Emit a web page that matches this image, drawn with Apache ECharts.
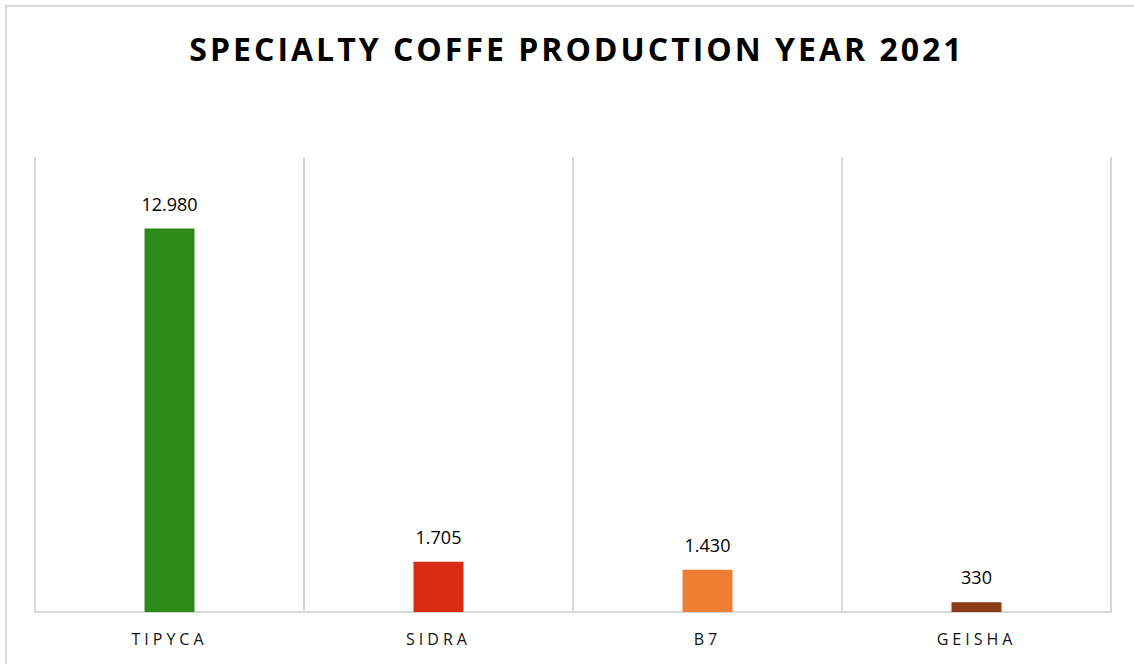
<!DOCTYPE html>
<html>
<head>
<meta charset="utf-8">
<script src="https://cdn.jsdelivr.net/npm/echarts@6/dist/echarts.min.js"></script>
<style>
  html, body { margin: 0; padding: 0; background: #fff; }
  #chart { width: 1134px; height: 664px; }
</style>
</head>
<body>
<div id="chart"></div>
<script>
const chartTitle = 'SPECIALTY COFFE PRODUCTION YEAR 2021';
const varieties = ['TIPYCA', 'SIDRA', 'B7', 'GEISHA'];
const production = [12980, 1705, 1430, 330];
const barColors = ['#2b8a18', '#d92b13', '#ee7f32', '#8b3a17'];

// 12980 -> "12.980"
function fmt(v) {
    return String(v).replace(/\B(?=(\d{3})+(?!\d))/g, '.');
}

let option = {
    animation: false,
    title: {
        text: chartTitle,
        left: 572,
        textAlign: 'center',
        top: 27,
        textStyle: {
            fontFamily: 'Open Sans',
            fontWeight: 'bold',
            fontSize: 32,
            color: '#000'
        }
    },
    grid: {
        left: 35,
        right: 23,
        top: 157,
        bottom: 52
    },
    xAxis: {
        type: 'category',
        data: varieties,
        axisTick: { show: false },
        axisLine: { lineStyle: { color: '#d9d9d9', width: 2 } },
        splitLine: { show: true, lineStyle: { color: '#d9d9d9', width: 2 } },
        axisLabel: {
            margin: 19,
            fontFamily: 'Open Sans',
            fontSize: 16,
            color: '#111'
        }
    },
    yAxis: {
        type: 'value',
        min: 0,
        max: 15400,
        show: false,
        splitLine: { show: false }
    },
    series: [{
        type: 'bar',
        barWidth: 50,
        data: production.map((v, i) => ({ value: v, itemStyle: { color: barColors[i] } })),
        label: {
            show: true,
            position: 'top',
            distance: 16,
            fontFamily: 'Open Sans',
            fontSize: 18,
            color: '#000',
            formatter: (p) => fmt(p.value)
        }
    }]
};

let myChart = echarts.init(document.getElementById('chart'), null, { renderer: 'svg' });
myChart.setOption(option);

// letter spacing for title and category labels
function spaceLetters() {
    document.querySelectorAll('#chart text').forEach((t) => {
        let s = t.textContent;
        if (s === chartTitle) t.style.letterSpacing = '3px';
        else if (varieties.indexOf(s) >= 0) t.style.letterSpacing = '4px';
    });
}
myChart.on('finished', spaceLetters);
spaceLetters();
</script>
<div style="position:absolute;left:5px;top:5px;right:-10px;bottom:-10px;border:2px solid #d9d9d9;pointer-events:none;"></div>
</body>
</html>
